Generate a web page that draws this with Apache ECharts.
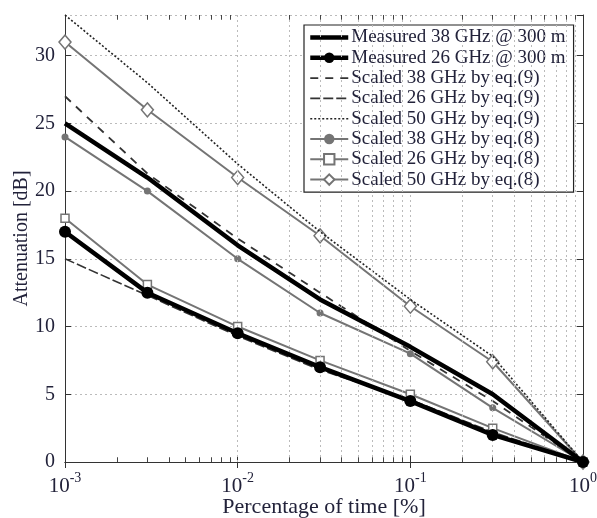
<!DOCTYPE html>
<html><head><meta charset="utf-8">
<script src="https://cdn.jsdelivr.net/npm/echarts@6/dist/echarts.min.js"></script>
<style>html,body{margin:0;padding:0;background:#fff}#c{width:597px;height:518px}</style>
</head><body><div id="c"></div>
<script>
const xs = [0.001, 0.003, 0.01, 0.03, 0.1, 0.3, 1];
const meas38 = [25, 21, 16, 12, 8.5, 5, 0];
const meas26 = [17, 12.5, 9.5, 7, 4.5, 2, 0];
const eq9_38 = [27, 21.3, 16.5, 12.5, 8.2, 4.5, 0];
const eq9_26 = [15, 12.3, 9.3, 6.8, 4.6, 2.2, 0];
const eq9_50 = [33, 28, 22, 17, 12, 7.8, 0];
const eq8_38 = [24, 20, 15, 11, 8, 4, 0];
const eq8_26 = [18, 13.1, 10, 7.5, 5, 2.5, 0];
const eq8_50 = [31, 26, 21, 16.7, 11.5, 7.4, 0];
const yTicks = [0, 5, 10, 15, 20, 25, 30];
const xLabel = 'Percentage of time [%]';
const yLabel = 'Attenuation [dB]';
const names = ['Measured 38 GHz @ 300 m','Measured 26 GHz @ 300 m','Scaled 38 GHz by eq.(9)','Scaled 26 GHz by eq.(9)','Scaled 50 GHz by eq.(9)','Scaled 38 GHz by eq.(8)','Scaled 26 GHz by eq.(8)','Scaled 50 GHz by eq.(8)'];

const minorX = [];
[0.001, 0.01, 0.1].forEach(d => { for (let k = 2; k <= 9; k++) minorX.push(+(k * d).toPrecision(3)); });

const FONT = 'Liberation Serif, Times New Roman, serif';
const TXT = '#22223a';
const pair = v => xs.map((x, i) => [x, v[i]]);

const gridLines = minorX.map(v => ({ xAxis: v }));
const minorTicks = [];
minorX.forEach(v => {
  minorTicks.push([{ coord: [v, 0] }, { coord: [v, 0.35] }]);
  minorTicks.push([{ coord: [v, 33] }, { coord: [v, 32.65] }]);
});

const gray = '#747474';
const series = [
  { name: names[0], type: 'line', data: pair(meas38), symbol: 'none', lineStyle: { color: '#000', width: 4.5 }, itemStyle: { color: '#000' }, z: 5,
    markLine: { silent: true, symbol: 'none', label: { show: false }, animation: false, lineStyle: { color: '#bbb', type: [2, 3], width: 1 }, data: gridLines } },
  { name: names[1], type: 'line', data: pair(meas26), symbol: 'circle', symbolSize: 12, lineStyle: { color: '#000', width: 4.5 }, itemStyle: { color: '#000' }, z: 5,
    markLine: { silent: true, symbol: 'none', label: { show: false }, animation: false, lineStyle: { color: '#444', type: 'solid', width: 1 }, data: minorTicks } },
  { name: names[2], type: 'line', data: pair(eq9_38), symbol: 'none', lineStyle: { color: '#333', width: 1.8, type: [8, 7] }, itemStyle: { color: '#333' }, z: 4 },
  { name: names[3], type: 'line', data: pair(eq9_26), symbol: 'none', lineStyle: { color: '#333', width: 1.6, type: [10, 3] }, itemStyle: { color: '#333' }, z: 4 },
  { name: names[4], type: 'line', data: pair(eq9_50), symbol: 'none', lineStyle: { color: '#222', width: 1.6, type: [2, 2] }, itemStyle: { color: '#222' }, z: 4 },
  { name: names[5], type: 'line', data: pair(eq8_38), symbol: 'circle', symbolSize: 7, lineStyle: { color: gray, width: 2 }, itemStyle: { color: gray }, z: 3 },
  { name: names[6], type: 'line', data: pair(eq8_26), symbol: 'rect', symbolSize: 8, lineStyle: { color: gray, width: 2 }, itemStyle: { color: '#fff', borderColor: gray, borderWidth: 1.5 }, z: 3 },
  { name: names[7], type: 'line', data: pair(eq8_50), symbol: 'diamond', symbolSize: [12, 14], lineStyle: { color: gray, width: 2 }, itemStyle: { color: '#fff', borderColor: gray, borderWidth: 1.5 }, z: 3 }
];
series.forEach(s => { s.showAllSymbol = true; s.animation = false; });

const legendData = series.map(s => {
  const item = { name: s.name, lineStyle: { width: Math.min(s.lineStyle.width, 5) } };
  if (s.symbol === 'none') item.itemStyle = { opacity: 0, borderWidth: 0 };
  if (s.name === names[1]) item.itemStyle = { color: '#000' };
  return item;
});

const chart = echarts.init(document.getElementById('c'), null, { renderer: 'canvas' });
chart.setOption({
  backgroundColor: '#fff',
  animation: false,
  grid: { left: 65, right: 14, top: 15, bottom: 56, outerBoundsMode: 'none', containLabel: false },
  legend: {
    orient: 'vertical', left: 304, top: 25, width: 269,
    backgroundColor: '#fff', borderColor: '#222', borderWidth: 1.2,
    padding: [3, 8, 3, 4], itemGap: 1.3, itemWidth: 38, itemHeight: 13,
    textStyle: { fontFamily: FONT, fontSize: 19, color: TXT, padding: [0, 0, 0, -2] },
    data: legendData
  },
  xAxis: [{
    type: 'log', logBase: 10, min: 0.001, max: 1, interval: 1,
    name: xLabel, nameLocation: 'middle', nameGap: 34, nameMoveOverlap: false,
    nameTextStyle: { fontFamily: FONT, fontSize: 22, color: TXT },
    axisLine: { lineStyle: { color: '#333', width: 1 } },
    axisTick: { inside: true, length: 6, lineStyle: { color: '#333' } },
    axisLabel: {
      margin: 9,
      formatter: v => '{b|10}{s|' + Math.round(Math.log10(v)) + '}',
      rich: { b: { fontFamily: FONT, fontSize: 21, color: TXT, verticalAlign: 'bottom' }, s: { fontFamily: FONT, fontSize: 14, color: TXT, verticalAlign: 'top', padding: [0, 0, 12, 0] } }
    },
    splitLine: { show: true, lineStyle: { color: '#bbb', type: [2, 3], width: 1 } }
  }, {
    type: 'log', logBase: 10, min: 0.001, max: 1, interval: 1, position: 'top',
    axisLine: { lineStyle: { color: '#333', width: 1 } },
    axisTick: { inside: true, length: 6, lineStyle: { color: '#333' } },
    axisLabel: { show: false }, splitLine: { show: false }
  }],
  yAxis: [{
    type: 'value', min: 0, max: 33, interval: 5,
    name: yLabel, nameLocation: 'middle', nameGap: 33, nameRotate: 90, nameMoveOverlap: false,
    nameTextStyle: { fontFamily: FONT, fontSize: 20, color: TXT },
    axisLine: { show: true, lineStyle: { color: '#333', width: 1 } },
    axisTick: { show: true, inside: true, length: 6, lineStyle: { color: '#333' } },
    axisLabel: { fontFamily: FONT, fontSize: 20, color: TXT, margin: 10, showMaxLabel: false },
    splitLine: { show: true, lineStyle: { color: '#bbb', type: [2, 3], width: 1 } }
  }, {
    type: 'value', min: 0, max: 33, interval: 5, position: 'right',
    axisLine: { show: true, lineStyle: { color: '#333', width: 1 } },
    axisTick: { show: true, inside: true, length: 6, lineStyle: { color: '#333' } },
    axisLabel: { show: false }, splitLine: { show: false }
  }],
  series: series
});
</script></body></html>
